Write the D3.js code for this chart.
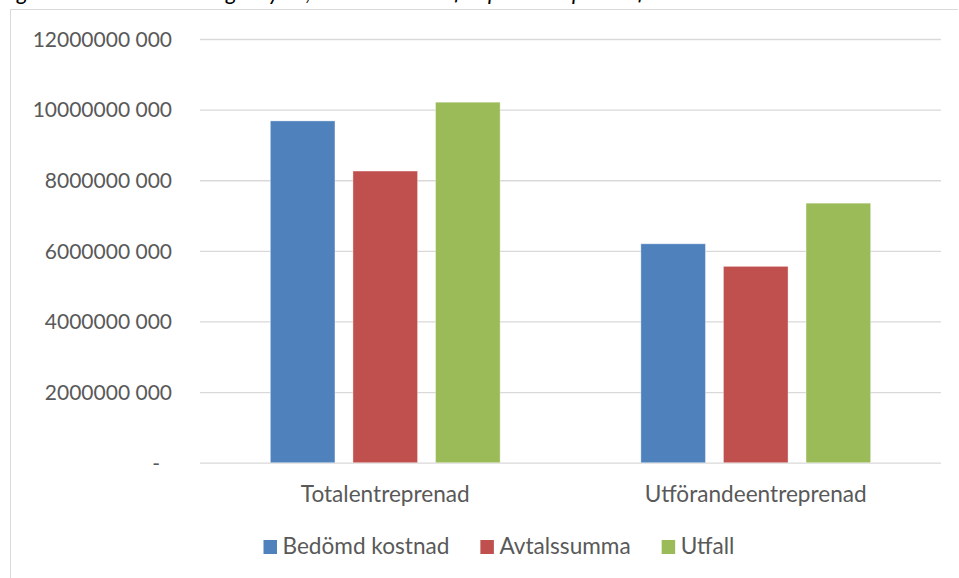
<!DOCTYPE html>
<html>
<head>
<meta charset="utf-8">
<script src="https://cdn.jsdelivr.net/npm/d3@7"></script>
<style>
  html, body { margin: 0; padding: 0; background: #fff; }
  svg { display: block; }
  text { font-family: Lato, "Open Sans", sans-serif; fill: #595959; }
</style>
</head>
<body>
<svg id="chart" width="959" height="578"></svg>
<script>
// ---- data ----
const categories = ["Totalentreprenad", "Utförandeentreprenad"];
const seriesNames = ["Bedömd kostnad", "Avtalssumma", "Utfall"];
const bedomdKostnad = [9680000000, 6200000000];
const avtalssumma   = [8260000000, 5560000000];
const utfall        = [10210000000, 7350000000];
const seriesValues = [bedomdKostnad, avtalssumma, utfall];
const seriesColors = ["#4F81BD", "#C0504D", "#9BBB59"];
const yTicks = [0, 2000000000, 4000000000, 6000000000, 8000000000, 10000000000, 12000000000];
const yTickLabels = ["-", "2000000 000", "4000000 000", "6000000 000", "8000000 000", "10000000 000", "12000000 000"];
const titleText = "Figur 7. Sammanställning av ytor, kostnad och utfall per entreprenadform";

// ---- layout ----
const svg = d3.select("#chart");
const plot = { left: 200, right: 941, top: 39, bottom: 462.7 };
const tickFont = 21;
const labelFont = 22.6;

// frame
svg.append("line").attr("x1", 10.5).attr("x2", 958).attr("y1", 9.5).attr("y2", 9.5)
  .attr("stroke", "#d9d9d9").attr("stroke-width", 1);
svg.append("line").attr("x1", 10.5).attr("x2", 10.5).attr("y1", 9.5).attr("y2", 578)
  .attr("stroke", "#d9d9d9").attr("stroke-width", 1);

// title (cut off by the top edge, as in the reference)
svg.append("text").attr("x", 0).attr("y", -0.5)
  .style("font-style", "italic").style("font-size", labelFont + "px").style("fill", "#000")
  .text(titleText);

const y = d3.scaleLinear().domain([0, 12000000000]).range([plot.bottom, plot.top]);
const x0 = d3.scaleBand().domain(categories).range([plot.left, plot.right]).paddingInner(0).paddingOuter(0);
const x1 = d3.scaleBand().domain(seriesNames).range([0, x0.bandwidth()]).paddingInner(0.218).paddingOuter(0.852);

// y axis with gridlines
const yAxis = d3.axisLeft(y)
  .tickValues(yTicks)
  .tickSize(-(plot.right - plot.left))
  .tickPadding(28)
  .tickFormat((d, i) => yTickLabels[i]);
const gy = svg.append("g").attr("transform", `translate(${plot.left},0)`).call(yAxis);
gy.select(".domain").remove();
gy.selectAll(".tick line").attr("stroke", "#d9d9d9").attr("stroke-width", 1.3);
gy.selectAll(".tick text")
  .style("font-size", tickFont + "px").style("fill", "#595959")
  .attr("dy", "0.35em")
  .attr("x", (d, i) => i === 0 ? -40 : -28);

// bars
const groups = svg.append("g").selectAll("g")
  .data(categories)
  .join("g")
  .attr("transform", c => `translate(${x0(c)},0)`);
groups.selectAll("rect")
  .data((c, ci) => seriesNames.map((s, si) => ({ s, v: seriesValues[si][ci], color: seriesColors[si] })))
  .join("rect")
  .attr("x", d => x1(d.s))
  .attr("width", x1.bandwidth())
  .attr("y", d => y(d.v))
  .attr("height", d => y(0) - y(d.v))
  .attr("fill", d => d.color)
  .attr("stroke", "#ffffff").attr("stroke-opacity", 0.35).attr("stroke-width", 1);

// category axis
const xAxis = d3.axisBottom(x0).tickSize(0).tickPadding(0);
const gx = svg.append("g").attr("transform", `translate(0,${plot.bottom})`).call(xAxis);
gx.select(".domain").remove();
gx.selectAll(".tick text")
  .style("font-size", labelFont + "px").style("fill", "#595959")
  .attr("dy", null).attr("y", 39);

// legend
const legend = svg.append("g");
let lx = 263.5;
seriesNames.forEach((name, i) => {
  legend.append("rect").attr("x", lx).attr("y", 540).attr("width", 13.5).attr("height", 14)
    .attr("fill", seriesColors[i]);
  const t = legend.append("text").attr("x", lx + 19).attr("y", 554)
    .style("font-size", labelFont + "px").style("fill", "#595959").text(name);
  lx += 19 + t.node().getComputedTextLength() + 31;
});
</script>
</body>
</html>
